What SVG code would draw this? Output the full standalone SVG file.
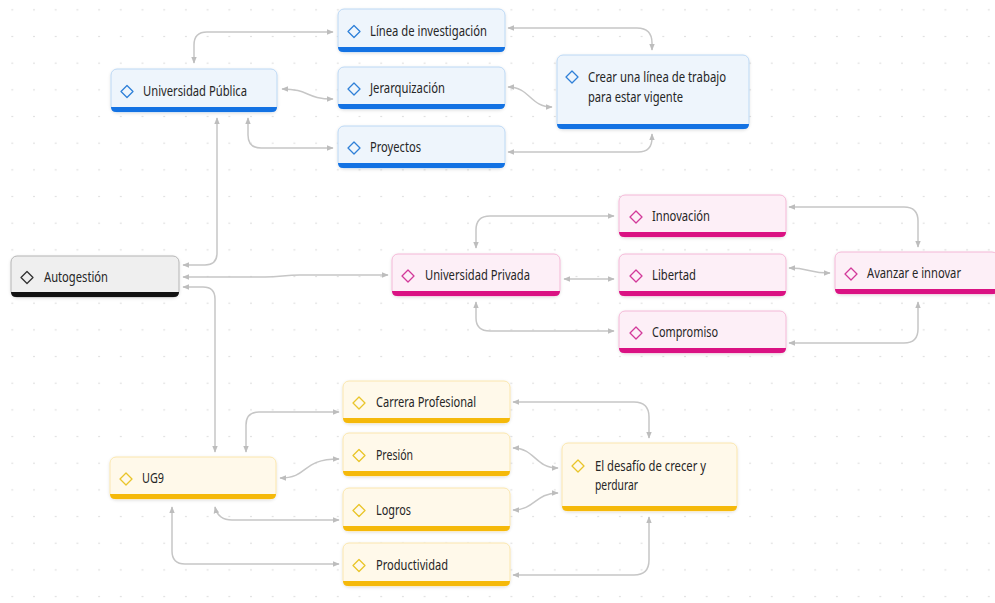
<svg xmlns="http://www.w3.org/2000/svg" width="995" height="603" viewBox="0 0 995 603">
<defs>
<pattern id="dots" x="1.45" y="-3.5" width="21.7" height="26.67" patternUnits="userSpaceOnUse"><circle cx="10.85" cy="13.33" r="0.8" fill="#d6d6d6"/></pattern>
<filter id="sh" x="-10%" y="-20%" width="120%" height="150%"><feDropShadow dx="0" dy="1" stdDeviation="1.5" flood-color="#000" flood-opacity="0.12"/></filter>
<marker id="ah" viewBox="0 0 10 10" refX="9" refY="5" markerWidth="7" markerHeight="7" orient="auto-start-reverse" markerUnits="userSpaceOnUse"><path d="M0,1 L10,5 L0,9 Z" fill="#bdbdbd"/></marker>
</defs>
<style>
.box{stroke-width:1;filter:url(#sh)}
.dia{fill:none;stroke-width:1.3;stroke-linejoin:round}
text{font-family:"Noto Sans","Open Sans","Liberation Sans",sans-serif;font-size:13.5px;fill:#262626}
.blue .box{fill:#eef5fc;stroke:#bcd8f4}.blue .bar{fill:#1372e3}.blue .dia{stroke:#2f80d8}
.pink .box{fill:#fdeff7;stroke:#f4b8d7}.pink .bar{fill:#da1283}.pink .dia{stroke:#d2399a}
.yellow .box{fill:#fff9ea;stroke:#fbe6ad}.yellow .bar{fill:#f5b90a}.yellow .dia{stroke:#e9c52a}
.gray .box{fill:#efefef;stroke:#b5b5b5}.gray .bar{fill:#111}.gray .dia{stroke:#333}
#connectors path{fill:none;stroke:#c6c6c6;stroke-width:1.5;marker-start:url(#ah);marker-end:url(#ah)}
</style>
<rect width="995" height="603" fill="#fff"/>
<rect width="995" height="603" fill="url(#dots)"/>

<g id="connectors">
<path d="M194,63 V45 Q194,32 207,32 H333"/>
<path d="M282,89 C310,89 305,99 333,99"/>
<path d="M248,118 V135 Q248,148 261,148 H333"/>
<path d="M217,118 V253 Q217,265 205,265 H183"/>
<path d="M183,287 H203 Q215,287 215,299 V452"/>
<path d="M183,277 H265 C280,277 285,275 300,275 H388"/>
<path d="M476,248 V230 Q476,216 490,216 H614"/>
<path d="M564,279 H614"/>
<path d="M476,302 V318 Q476,331 490,331 H614"/>
<path d="M789,207 H904 Q918,207 918,221 V247"/>
<path d="M789,268 C810,268 808,273 830,273"/>
<path d="M789,343 H904 Q918,343 918,329 V302"/>
<path d="M508,28 H637 Q652,28 652,43 V50"/>
<path d="M508,87 C530,87 530,107 552,107"/>
<path d="M508,152 H638 Q652,152 652,138 V134"/>
<path d="M246,452 V425 Q246,412 259,412 H339"/>
<path d="M280,478 C310,478 300,459 339,459"/>
<path d="M215,507 Q218,520 232,520 H339"/>
<path d="M172,507 V551 Q172,564 185,564 H339"/>
<path d="M513,402 H634 Q649,402 649,417 V438"/>
<path d="M513,448 C535,448 535,468 558,468"/>
<path d="M513,510 C535,510 535,493 558,493"/>
<path d="M513,575 H634 Q649,575 649,560 V517"/>
</g>

<g id="n-up" class="blue">
<rect class="box" x="111" y="69" width="166" height="43" rx="6"/>
<path class="bar" d="M111,107 H277 Q277,112 272,112 H116 Q111,112 111,107 Z"/>
<path class="dia" d="M121,91.5 L127,85.5 L133,91.5 L127,97.5 Z"/>
<text x="143" y="95.5" textLength="104" lengthAdjust="spacingAndGlyphs">Universidad Pública</text>
</g>
<g id="n-linea" class="blue">
<rect class="box" x="338" y="9" width="167" height="43" rx="6"/>
<path class="bar" d="M338,47 H505 Q505,52 500,52 H343 Q338,52 338,47 Z"/>
<path class="dia" d="M348,31.5 L354,25.5 L360,31.5 L354,37.5 Z"/>
<text x="370" y="35.5" textLength="117" lengthAdjust="spacingAndGlyphs">Línea de investigación</text>
</g>
<g id="n-jerarq" class="blue">
<rect class="box" x="338" y="67" width="167" height="42" rx="6"/>
<path class="bar" d="M338,104 H505 Q505,109 500,109 H343 Q338,109 338,104 Z"/>
<path class="dia" d="M348,89 L354,83 L360,89 L354,95 Z"/>
<text x="370" y="93" textLength="75" lengthAdjust="spacingAndGlyphs">Jerarquización</text>
</g>
<g id="n-proyectos" class="blue">
<rect class="box" x="338" y="126" width="167" height="42" rx="6"/>
<path class="bar" d="M338,163 H505 Q505,168 500,168 H343 Q338,168 338,163 Z"/>
<path class="dia" d="M348,148 L354,142 L360,148 L354,154 Z"/>
<text x="370" y="152" textLength="51" lengthAdjust="spacingAndGlyphs">Proyectos</text>
</g>
<g id="n-crear" class="blue">
<rect class="box" x="557" y="55" width="192" height="74" rx="6"/>
<path class="bar" d="M557,124 H749 Q749,129 744,129 H562 Q557,129 557,124 Z"/>
<path class="dia" d="M566,77 L572,71 L578,77 L572,83 Z"/>
<text x="588" y="82" textLength="138" lengthAdjust="spacingAndGlyphs">Crear una línea de trabajo</text>
<text x="588" y="102" textLength="95" lengthAdjust="spacingAndGlyphs">para estar vigente</text>
</g>

<g id="n-autogestion" class="gray">
<rect class="box" x="11" y="256" width="168" height="41" rx="6"/>
<path class="bar" d="M11,292 H179 Q179,297 174,297 H16 Q11,297 11,292 Z"/>
<path class="dia" d="M21,277.5 L27,271.5 L33,277.5 L27,283.5 Z"/>
<text x="44" y="281.5" textLength="64" lengthAdjust="spacingAndGlyphs">Autogestión</text>
</g>

<g id="n-uprivada" class="pink">
<rect class="box" x="392" y="254" width="168" height="42" rx="6"/>
<path class="bar" d="M392,291 H560 Q560,296 555,296 H397 Q392,296 392,291 Z"/>
<path class="dia" d="M402,276 L408,270 L414,276 L408,282 Z"/>
<text x="425" y="280" textLength="105" lengthAdjust="spacingAndGlyphs">Universidad Privada</text>
</g>
<g id="n-innovacion" class="pink">
<rect class="box" x="619" y="195" width="167" height="42" rx="6"/>
<path class="bar" d="M619,232 H786 Q786,237 781,237 H624 Q619,237 619,232 Z"/>
<path class="dia" d="M630,217 L636,211 L642,217 L636,223 Z"/>
<text x="652" y="221" textLength="58" lengthAdjust="spacingAndGlyphs">Innovación</text>
</g>
<g id="n-libertad" class="pink">
<rect class="box" x="619" y="254" width="167" height="42" rx="6"/>
<path class="bar" d="M619,291 H786 Q786,296 781,296 H624 Q619,296 619,291 Z"/>
<path class="dia" d="M630,276 L636,270 L642,276 L636,282 Z"/>
<text x="652" y="280" textLength="44" lengthAdjust="spacingAndGlyphs">Libertad</text>
</g>
<g id="n-compromiso" class="pink">
<rect class="box" x="619" y="311" width="167" height="42" rx="6"/>
<path class="bar" d="M619,348 H786 Q786,353 781,353 H624 Q619,353 619,348 Z"/>
<path class="dia" d="M630,333 L636,327 L642,333 L636,339 Z"/>
<text x="652" y="337" textLength="66" lengthAdjust="spacingAndGlyphs">Compromiso</text>
</g>
<g id="n-avanzar" class="pink">
<rect class="box" x="835" y="252" width="163" height="42" rx="6"/>
<path class="bar" d="M835,289 H998 Q998,294 993,294 H840 Q835,294 835,289 Z"/>
<path class="dia" d="M845,274 L851,268 L857,274 L851,280 Z"/>
<text x="867" y="278" textLength="94" lengthAdjust="spacingAndGlyphs">Avanzar e innovar</text>
</g>

<g id="n-ug9" class="yellow">
<rect class="box" x="110" y="457" width="166" height="42" rx="6"/>
<path class="bar" d="M110,494 H276 Q276,499 271,499 H115 Q110,499 110,494 Z"/>
<path class="dia" d="M120,479 L126,473 L132,479 L126,485 Z"/>
<text x="142" y="483" textLength="22" lengthAdjust="spacingAndGlyphs">UG9</text>
</g>
<g id="n-carrera" class="yellow">
<rect class="box" x="343" y="381" width="167" height="42" rx="6"/>
<path class="bar" d="M343,418 H510 Q510,423 505,423 H348 Q343,423 343,418 Z"/>
<path class="dia" d="M353,403 L359,397 L365,403 L359,409 Z"/>
<text x="376" y="407" textLength="100" lengthAdjust="spacingAndGlyphs">Carrera Profesional</text>
</g>
<g id="n-presion" class="yellow">
<rect class="box" x="343" y="433" width="167" height="43" rx="6"/>
<path class="bar" d="M343,471 H510 Q510,476 505,476 H348 Q343,476 343,471 Z"/>
<path class="dia" d="M353,455.5 L359,449.5 L365,455.5 L359,461.5 Z"/>
<text x="376" y="459.5" textLength="37" lengthAdjust="spacingAndGlyphs">Presión</text>
</g>
<g id="n-logros" class="yellow">
<rect class="box" x="343" y="488" width="167" height="43" rx="6"/>
<path class="bar" d="M343,526 H510 Q510,531 505,531 H348 Q343,531 343,526 Z"/>
<path class="dia" d="M353,510.5 L359,504.5 L365,510.5 L359,516.5 Z"/>
<text x="376" y="514.5" textLength="35" lengthAdjust="spacingAndGlyphs">Logros</text>
</g>
<g id="n-productividad" class="yellow">
<rect class="box" x="343" y="543" width="167" height="43" rx="6"/>
<path class="bar" d="M343,581 H510 Q510,586 505,586 H348 Q343,586 343,581 Z"/>
<path class="dia" d="M353,565.5 L359,559.5 L365,565.5 L359,571.5 Z"/>
<text x="376" y="569.5" textLength="72" lengthAdjust="spacingAndGlyphs">Productividad</text>
</g>
<g id="n-desafio" class="yellow">
<rect class="box" x="562" y="443" width="175" height="68" rx="6"/>
<path class="bar" d="M562,506 H737 Q737,511 732,511 H567 Q562,511 562,506 Z"/>
<path class="dia" d="M572,466 L578,460 L584,466 L578,472 Z"/>
<text x="595" y="471" textLength="111" lengthAdjust="spacingAndGlyphs">El desafío de crecer y</text>
<text x="595" y="490" textLength="43" lengthAdjust="spacingAndGlyphs">perdurar</text>
</g>
</svg>
